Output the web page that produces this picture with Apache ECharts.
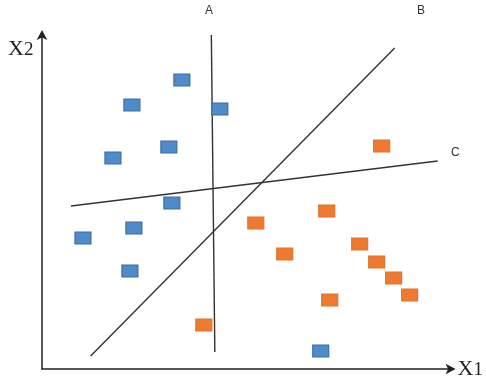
<!DOCTYPE html>
<html><head><meta charset="utf-8">
<script src="https://cdn.jsdelivr.net/npm/echarts@6/dist/echarts.min.js"></script>
<style>html,body{margin:0;padding:0;background:#fff}#c{width:486px;height:382px}</style>
</head><body><div id="c"></div>
<script>
const blueX = [140, 90, 178, 127, 71, 130, 92, 41, 88, 279];
const blueY = [289, 264, 260, 222, 211, 166, 141, 131, 98, 18];
const orangeX = [340, 214, 285, 243, 318, 335, 352, 368, 288, 162];
const orangeY = [223, 146, 158, 115, 125, 107, 91, 74, 69, 44];
const lineA = [[169.5, 334], [173, 17]];
const lineB = [[48.7, 13], [353, 321]];
const lineC = [[29, 163], [396, 208]];
const lineNames = ['A', 'B', 'C'];

const chart = echarts.init(document.getElementById('c'), null, {renderer: 'canvas'});
const zip = (xs, ys) => xs.map((x, i) => [x, ys[i]]);
const axisLine = {show: true, symbol: ['none', 'arrow'], symbolSize: [8, 10], symbolOffset: [0, 4],
  lineStyle: {color: '#222', width: 1.5}};
function sep(data, name) {
  return {type: 'line', name, data, symbol: 'none', silent: true, clip: false,
    lineStyle: {color: '#333', width: 1.4}, z: 2};
}
chart.setOption({
  animation: false,
  grid: {left: 42, top: 34, width: 410, height: 335},
  xAxis: {type: 'value', min: 0, max: 410, axisLine, axisTick: {show: false},
    axisLabel: {show: false}, splitLine: {show: false},
    name: '{x|X}{s|1}', nameLocation: 'end', nameGap: 6,
    nameTextStyle: {verticalAlign: 'middle', rich: {
      x: {fontFamily: 'Liberation Serif', fontSize: 22, color: '#222'},
      s: {fontFamily: 'Liberation Serif', fontSize: 19, color: '#222', verticalAlign: 'bottom'}}}},
  yAxis: {type: 'value', min: 0, max: 335, axisLine, axisTick: {show: false},
    axisLabel: {show: false}, splitLine: {show: false}},
  graphic: [
    {type: 'text', left: 8, top: 38, style: {text: 'X', font: '22px "Liberation Serif"', fill: '#222'}},
    {type: 'text', left: 24, top: 41, style: {text: '2', font: '19px "Liberation Serif"', fill: '#222'}},
    {type: 'text', left: 205, top: 5, style: {text: lineNames[0], font: '12px "Liberation Sans"', fill: '#333'}},
    {type: 'text', left: 417, top: 5, style: {text: lineNames[1], font: '12px "Liberation Sans"', fill: '#333'}},
    {type: 'text', left: 451, top: 147, style: {text: lineNames[2], font: '12px "Liberation Sans"', fill: '#333'}}
  ],
  series: [
    sep(lineA, 'A'), sep(lineB, 'B'), sep(lineC, 'C'),
    {type: 'scatter', data: zip(blueX, blueY), symbol: 'rect', symbolSize: [16, 12], z: 3,
      itemStyle: {color: '#4F8BCB', borderColor: '#3C6E9E', borderWidth: 1, opacity: 1}},
    {type: 'scatter', data: zip(orangeX, orangeY), symbol: 'rect', symbolSize: [16, 12], z: 3,
      itemStyle: {color: '#EE7A30', borderColor: '#E0732C', borderWidth: 1, opacity: 1}}
  ]
});
</script></body></html>
